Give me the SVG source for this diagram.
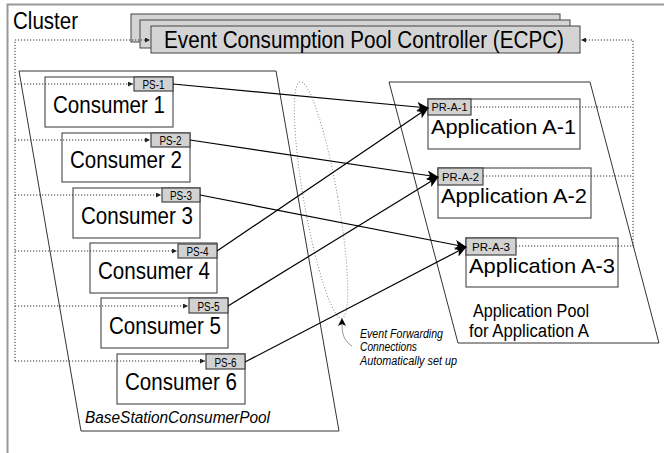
<svg xmlns="http://www.w3.org/2000/svg" width="664" height="453" viewBox="0 0 664 453">
<style>
text{font-family:"Liberation Sans",Arial,sans-serif;fill:#000}
.box{fill:#fff;stroke:#555;stroke-width:1.2}
.tag{fill:#d2d2d2;stroke:#444;stroke-width:1.2}
.ecpc{fill:#d4d4d4;stroke:#444;stroke-width:1}
.pool{fill:none;stroke:#333;stroke-width:1}
.big{font-size:23px}
.app{font-size:21px}
.small{font-size:12px}
.pr{font-size:11px}
.dot{fill:none;stroke:#333;stroke-width:1;stroke-dasharray:1.2 1.8}
.sol{fill:none;stroke:#000;stroke-width:1.2;marker-end:url(#ah)}
</style>
<defs>
<marker id="ah" viewBox="0 0 12 10" refX="11" refY="5" markerWidth="12" markerHeight="10" markerUnits="userSpaceOnUse" orient="auto">
<path d="M0,0 L12,5 L0,10 L3,5 z" fill="#000"/>
</marker>
<marker id="dh" viewBox="0 0 6 6" refX="6" refY="3" markerWidth="5" markerHeight="5" markerUnits="userSpaceOnUse" orient="auto">
<path d="M0,0 L6,3 L0,6 z" fill="#222"/>
</marker>
</defs>
<rect width="664" height="453" fill="#fff"/>
<g id="cluster">
<path d="M7.5,453 V4.5 H664" fill="none" stroke="#999" stroke-width="2"/>
<text x="13" y="29" font-size="23" textLength="65" lengthAdjust="spacingAndGlyphs">Cluster</text>
</g>
<g id="consumer-pool">
<path class="pool" d="M19,71 L276,71 L339,431 L81,431 Z"/>
<text x="85" y="423" font-size="16" font-style="italic" textLength="185" lengthAdjust="spacingAndGlyphs">BaseStationConsumerPool</text>
</g>
<g id="app-pool">
<path class="pool" d="M389,82 L590,82 L659,343 L458,343 Z"/>
<text x="531" y="317" font-size="18" text-anchor="middle" textLength="116" lengthAdjust="spacingAndGlyphs">Application Pool</text>
<text x="529" y="337" font-size="18" text-anchor="middle" textLength="120" lengthAdjust="spacingAndGlyphs">for Application A</text>
</g>
<g id="ellipse-note">
<ellipse cx="321" cy="200" rx="17" ry="120" transform="rotate(-10 321 200)" fill="none" stroke="#888" stroke-width="1" stroke-dasharray="1 2"/>
<path d="M352,346 C344,341 342,334 342,324" fill="none" stroke="#999" stroke-width="1"/>
<path d="M342,318 L346,326 L342,324 L338,326 Z" fill="#000"/>
<text x="360" y="338" font-size="12" font-style="italic" textLength="83" lengthAdjust="spacingAndGlyphs">Event Forwarding</text>
<text x="360" y="351" font-size="12" font-style="italic" textLength="57" lengthAdjust="spacingAndGlyphs">Connections</text>
<text x="360" y="365" font-size="12" font-style="italic" textLength="97" lengthAdjust="spacingAndGlyphs">Automatically set up</text>
</g>
<g id="ecpc">
<rect class="ecpc" x="131" y="14" width="429" height="28"/>
<rect class="ecpc" x="140" y="20" width="430" height="28"/>
<rect class="ecpc" x="151" y="26" width="429" height="27"/>
<text x="164" y="48" font-size="23" textLength="400" lengthAdjust="spacingAndGlyphs">Event Consumption Pool Controller (ECPC)</text>
</g>
<g id="consumer1">
<rect class="box" x="45" y="77" width="128" height="50"/>
<rect class="tag" x="134" y="77" width="39" height="14"/>
<text x="153.5" y="88.5" class="small" text-anchor="middle" textLength="22" lengthAdjust="spacingAndGlyphs">PS-1</text>
<text x="109" y="113" class="big" text-anchor="middle" textLength="112" lengthAdjust="spacingAndGlyphs">Consumer 1</text>
</g>
<g id="consumer2">
<rect class="box" x="62" y="133" width="128" height="49"/>
<rect class="tag" x="151" y="133" width="39" height="14"/>
<text x="170.5" y="144.5" class="small" text-anchor="middle" textLength="22" lengthAdjust="spacingAndGlyphs">PS-2</text>
<text x="126" y="168" class="big" text-anchor="middle" textLength="112" lengthAdjust="spacingAndGlyphs">Consumer 2</text>
</g>
<g id="consumer3">
<rect class="box" x="73" y="188" width="127" height="50"/>
<rect class="tag" x="162" y="188" width="38" height="14"/>
<text x="181" y="199.5" class="small" text-anchor="middle" textLength="22" lengthAdjust="spacingAndGlyphs">PS-3</text>
<text x="137" y="224" class="big" text-anchor="middle" textLength="112" lengthAdjust="spacingAndGlyphs">Consumer 3</text>
</g>
<g id="consumer4">
<rect class="box" x="90" y="243" width="127" height="50"/>
<rect class="tag" x="178" y="244" width="39" height="14"/>
<text x="197.5" y="255.5" class="small" text-anchor="middle" textLength="22" lengthAdjust="spacingAndGlyphs">PS-4</text>
<text x="154" y="279" class="big" text-anchor="middle" textLength="112" lengthAdjust="spacingAndGlyphs">Consumer 4</text>
</g>
<g id="consumer5">
<rect class="box" x="101" y="298" width="127" height="50"/>
<rect class="tag" x="189" y="298" width="39" height="15"/>
<text x="208.5" y="310.5" class="small" text-anchor="middle" textLength="22" lengthAdjust="spacingAndGlyphs">PS-5</text>
<text x="165" y="334" class="big" text-anchor="middle" textLength="112" lengthAdjust="spacingAndGlyphs">Consumer 5</text>
</g>
<g id="consumer6">
<rect class="box" x="117" y="354" width="128" height="50"/>
<rect class="tag" x="206" y="354" width="39" height="15"/>
<text x="225.5" y="366.5" class="small" text-anchor="middle" textLength="22" lengthAdjust="spacingAndGlyphs">PS-6</text>
<text x="181" y="390" class="big" text-anchor="middle" textLength="112" lengthAdjust="spacingAndGlyphs">Consumer 6</text>
</g>
<g id="app1">
<rect class="box" x="428" y="99" width="152" height="50"/>
<rect class="tag" x="428" y="99" width="43" height="16"/>
<text x="449.5" y="111" class="pr" text-anchor="middle" textLength="36" lengthAdjust="spacingAndGlyphs">PR-A-1</text>
<text x="431" y="134" class="app" textLength="145" lengthAdjust="spacingAndGlyphs">Application A-1</text>
</g>
<g id="app2">
<rect class="box" x="438" y="168" width="153" height="50"/>
<rect class="tag" x="438" y="168" width="45" height="17"/>
<text x="460.5" y="180.5" class="pr" text-anchor="middle" textLength="37" lengthAdjust="spacingAndGlyphs">PR-A-2</text>
<text x="441" y="203" class="app" textLength="146" lengthAdjust="spacingAndGlyphs">Application A-2</text>
</g>
<g id="app3">
<rect class="box" x="466" y="238" width="152" height="49"/>
<rect class="tag" x="466" y="238" width="50" height="17"/>
<text x="491" y="250.5" class="pr" text-anchor="middle" textLength="38" lengthAdjust="spacingAndGlyphs">PR-A-3</text>
<text x="469" y="273" class="app" textLength="146" lengthAdjust="spacingAndGlyphs">Application A-3</text>
</g>
<g id="connectors">
<path class="dot" d="M15,361 V40 H150" marker-end="url(#dh)"/>
<path class="dot" d="M15,84 H133" marker-end="url(#dh)"/>
<path class="dot" d="M15,140 H150" marker-end="url(#dh)"/>
<path class="dot" d="M15,195 H161" marker-end="url(#dh)"/>
<path class="dot" d="M15,251 H177" marker-end="url(#dh)"/>
<path class="dot" d="M15,306 H188" marker-end="url(#dh)"/>
<path class="dot" d="M15,361 H205" marker-end="url(#dh)"/>
<path class="dot" d="M633,246 V40 H581" marker-end="url(#dh)"/>
<path class="dot" d="M471,107 H633"/>
<path class="dot" d="M483,176 H633"/>
<path class="dot" d="M516,246 H633"/>
<path class="sol" d="M173,84 L428,108"/>
<path class="sol" d="M217,251 L428,108"/>
<path class="sol" d="M190,140 L438,177"/>
<path class="sol" d="M228,306 L438,177"/>
<path class="sol" d="M200,195 L466,247"/>
<path class="sol" d="M245,362 L466,247"/>
</g>
</svg>
